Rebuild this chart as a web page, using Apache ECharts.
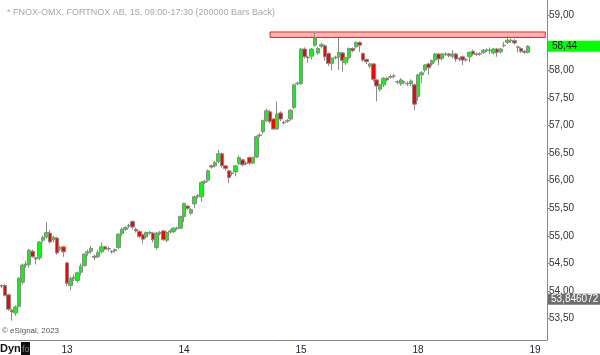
<!DOCTYPE html>
<html><head><meta charset="utf-8">
<script src="https://cdn.jsdelivr.net/npm/echarts@6/dist/echarts.min.js"></script>
<style>html,body{margin:0;padding:0;background:#fff}#c{width:600px;height:355px}</style>
</head><body><div id="c"></div>
<script>
const dayLabels = ['13','14','15','18','19'];
const dayStarts = [19, 53, 87, 121, 155];
const slotCount = 159;

const opens = [
 54.10,54.10,53.93,53.65,53.60,53.72,54.16,54.47,54.48,54.72,54.60,54.60,54.92,54.98,55.05,54.93,54.96,54.76,54.80,
 54.51,54.10,54.23,54.19,54.34,54.46,54.69,54.72,54.63,54.62,54.71,54.80,54.77,54.72,54.73,54.79,55.04,55.12,55.18,55.26,55.12,55.08,55.02,54.98,55.05,55.05,54.79,55.04,55.09,54.92,55.07,55.08,55.13,55.14,
 55.35,55.54,55.41,55.58,55.72,55.71,55.97,56.01,56.27,56.27,56.35,56.49,56.27,56.18,56.13,56.16,56.31,56.38,56.31,56.42,56.32,56.43,56.82,56.89,57.09,57.25,57.12,56.94,57.23,57.06,57.08,57.12,57.33,57.76,
 57.76,58.39,58.24,58.26,58.46,58.32,58.44,58.45,58.31,58.13,58.23,58.25,58.32,58.14,58.23,58.40,58.43,58.51,58.31,58.20,58.08,58.12,57.83,57.66,57.74,57.86,57.88,57.90,57.80,57.76,57.79,57.76,57.76,57.74,
 57.53,57.92,58.01,58.12,58.12,58.19,58.30,58.22,58.29,58.30,58.26,58.30,58.22,58.25,58.19,58.25,58.35,58.29,58.30,58.33,58.37,58.36,58.32,58.39,58.34,58.45,58.51,58.54,58.54,58.43,58.40,58.35,58.33
];
const closes = [
 54.09,53.92,53.67,53.62,53.71,54.23,54.47,54.49,54.74,54.62,54.58,54.89,54.97,55.06,54.89,54.97,54.69,54.79,54.71,
 54.14,54.23,54.25,54.33,54.45,54.67,54.71,54.77,54.61,54.70,54.80,54.76,54.76,54.71,54.75,55.03,55.12,55.15,55.19,55.16,55.09,54.99,54.94,55.06,55.06,54.93,55.05,55.06,54.93,55.06,55.09,55.14,55.14,55.35,
 55.59,55.50,55.48,55.71,55.73,55.97,55.99,56.18,56.25,56.33,56.49,56.27,56.22,56.06,56.14,56.27,56.42,56.29,56.32,56.32,56.42,56.80,56.83,57.09,57.27,57.07,56.94,57.21,57.12,57.05,57.09,57.28,57.74,57.77,
 58.39,58.25,58.23,58.39,58.59,58.40,58.47,58.25,58.13,58.22,58.24,58.33,58.18,58.23,58.40,58.36,58.51,58.46,58.19,58.16,58.12,57.84,57.72,57.74,57.86,57.83,57.89,57.90,57.79,57.83,57.79,57.76,57.81,57.39,
 57.92,57.96,58.10,58.05,58.18,58.30,58.21,58.30,58.30,58.27,58.30,58.21,58.21,58.19,58.20,58.33,58.30,58.30,58.31,58.37,58.37,58.37,58.39,58.33,58.39,58.46,58.55,58.55,58.50,58.42,58.35,58.33,58.44
];
const lows = [
 54.05,53.90,53.64,53.46,53.55,53.70,54.12,54.42,54.42,54.60,54.48,54.56,54.88,54.95,54.86,54.88,54.66,54.72,54.62,
 54.09,54.01,54.18,54.15,54.28,54.44,54.64,54.68,54.56,54.60,54.68,54.74,54.72,54.68,54.70,54.76,55.00,55.09,55.14,55.12,55.06,54.96,54.86,54.95,55.02,54.88,54.75,55.01,54.91,54.88,55.04,55.05,55.10,55.12,
 55.25,55.47,55.38,55.50,55.68,55.62,55.94,55.98,56.22,56.24,56.32,56.24,56.18,55.96,56.09,56.08,56.28,56.26,56.28,56.29,56.30,56.41,56.79,56.85,57.06,57.04,56.92,56.92,57.08,57.02,57.05,57.09,57.30,57.73,
 57.74,58.22,58.14,58.20,58.43,58.28,58.40,58.18,58.08,58.00,58.20,58.01,57.98,58.10,58.20,58.33,58.40,58.34,58.16,58.12,58.04,57.80,57.44,57.62,57.70,57.80,57.85,57.86,57.75,57.72,57.75,57.72,57.72,57.28,
 57.45,57.77,57.97,57.92,58.08,58.15,58.10,58.18,58.26,58.24,58.22,58.16,58.17,58.10,58.16,58.15,58.27,58.26,58.27,58.30,58.34,58.30,58.29,58.25,58.31,58.42,58.48,58.50,58.47,58.33,58.32,58.30,58.31
];
const highs = [
 54.12,54.12,53.95,53.68,53.74,54.25,54.50,54.55,54.76,54.75,54.62,54.90,55.00,55.25,55.10,55.00,54.98,54.82,54.82,
 54.53,54.26,54.30,54.35,54.50,54.68,54.75,54.82,54.66,54.74,54.88,54.82,54.80,54.74,54.77,55.05,55.15,55.18,55.22,55.28,55.15,55.10,55.04,55.08,55.09,55.07,55.07,55.09,55.11,55.08,55.12,55.16,55.17,55.37,
 55.60,55.56,55.50,55.73,55.76,55.99,56.02,56.20,56.29,56.36,56.56,56.51,56.29,56.20,56.17,56.29,56.45,56.40,56.35,56.44,56.44,56.82,56.86,57.11,57.31,57.28,57.14,57.44,57.26,57.09,57.12,57.30,57.76,57.80,
 58.41,58.42,58.27,58.41,58.69,58.43,58.50,58.47,58.33,58.24,58.27,58.60,58.34,58.25,58.42,58.42,58.53,58.53,58.33,58.22,58.14,58.14,57.85,57.76,57.88,57.88,57.93,57.94,57.82,57.86,57.82,57.80,57.84,57.76,
 57.94,57.99,58.12,58.14,58.20,58.32,58.32,58.32,58.33,58.32,58.37,58.32,58.24,58.27,58.23,58.35,58.38,58.33,58.33,58.39,58.40,58.42,58.41,58.41,58.41,58.52,58.63,58.58,58.57,58.45,58.42,58.37,58.46
];
const yTicks = [53.5,54,54.5,55,55.5,56,56.5,57,57.5,58,58.5,59];
const yLabels = [53.5,54,54.5,55,55.5,56,56.5,57,57.5,58,59];
const resistanceBand = [58.60, 58.70];
const resistanceStart = 78;
const lastPrice = 58.44;
const indicatorValue = 53.846072;

const categories = [];
for (let i = 0; i < slotCount; i++) {
  const k = dayStarts.indexOf(i);
  categories.push(k >= 0 ? dayLabels[k] : '');
}
const ohlc = opens.map((o, i) => [o, closes[i], lows[i], highs[i]]);
const fmt = v => v.toFixed(2).replace('.', ',');

const chart = echarts.init(document.getElementById('c'));
chart.setOption({
  animation: false,
  textStyle: {fontFamily: 'Arial, Liberation Sans, sans-serif'},
  title: {text: '* FNOX-OMX, FORTNOX AB, 15, 09:00-17:30 (200000 Bars Back)', left: 2, top: 3,
    textStyle: {fontSize: 9, fontWeight: 'normal', color: '#a8a8a8'}},
  grid: {left: 0, right: 53, top: 0, bottom: 15},
  xAxis: {
    type: 'category', data: categories, boundaryGap: true,
    axisLine: {lineStyle: {color: '#888', width: 1}},
    axisTick: {alignWithLabel: true, interval: i => dayStarts.includes(i), length: 4, lineStyle: {color: '#888'}},
    axisLabel: {interval: i => dayStarts.includes(i), color: '#1a1a40', fontSize: 10, margin: 5},
    splitLine: {show: false}
  },
  yAxis: {
    type: 'value', position: 'right', min: 53.11, max: 59.28,
    axisLine: {show: true, lineStyle: {color: '#888'}},
    axisTick: {show: true, customValues: yTicks, length: 3, lineStyle: {color: '#888'}},
    axisLabel: {customValues: yLabels, formatter: fmt, color: '#333', fontSize: 10, margin: 2},
    splitLine: {show: false}
  },
  series: [{
    type: 'candlestick', data: ohlc, barWidth: 4, clip: false,
    itemStyle: {color: '#00ff00', color0: '#ff0000', borderColor: '#8a8a8a', borderColor0: '#8a8a8a',
      borderColorDoji: '#8a8a8a', borderWidth: 1},
    markArea: {silent: true, itemStyle: {color: '#ffb4b4', borderColor: '#e8262a', borderWidth: 1},
      data: [[{xAxis: resistanceStart, yAxis: resistanceBand[1]}, {xAxis: slotCount - 1, yAxis: resistanceBand[0]}]]},
    markLine: {silent: true, symbol: 'none', animation: false, z: 10,
      lineStyle: {color: 'rgba(0,0,0,0)', width: 0, type: 'solid'},
      data: [
        {yAxis: lastPrice, label: {show: true, position: 'end', distance: 1, formatter: () => fmt(lastPrice),
          backgroundColor: '#00ff00', color: '#000', fontSize: 10, padding: [1, 26, 0, 4]}},
        {yAxis: indicatorValue, label: {show: true, position: 'end', distance: 1, formatter: () => String(indicatorValue).replace('.', ','),
          backgroundColor: '#6e6e6e', color: '#fff', fontSize: 10, padding: [1, 2, 0, 3]}}
      ]}
  }],
  graphic: [
    {type: 'text', left: 2, top: 327, style: {text: '© eSignal, 2023', fontSize: 8, fill: '#555'}},
    {type: 'text', left: 0, top: 343, style: {text: 'Dyn', fontSize: 11, fontWeight: 'bold', fill: '#111'}},
    {type: 'rect', left: 21, top: 342, shape: {width: 9, height: 13}, style: {fill: '#111'}},
    {type: 'text', left: 22, top: 345, style: {text: 'fo', fontSize: 9, fill: '#888'}}
  ]
});
</script>
</body></html>
